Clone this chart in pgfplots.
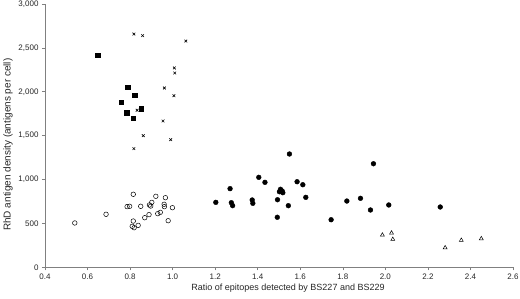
\documentclass[border=0pt]{standalone}
\usepackage{pgfplots}
\pgfplotsset{compat=1.18}
\usepackage{fontspec}
\setmainfont{Liberation Sans}
\definecolor{axgray}{RGB}{128,128,128}
\begin{document}
\begin{tikzpicture}
\begin{axis}[
  at={(0,0)}, anchor=south west,
  scale only axis, width=468pt, height=263.3pt,
  xmin=0.4, xmax=2.6, ymin=0, ymax=3000,
  axis lines*=left,
  axis line style={axgray, line width=0.8pt},
  every tick/.style={axgray, line width=0.6pt},
  tick align=outside, major tick length=3pt,
  xtick={0.4,0.6,...,2.61}, ytick={0,500,...,3000},
  xticklabel style={/pgf/number format/.cd, fixed, fixed zerofill, precision=1},
  yticklabel style={/pgf/number format/.cd, fixed, 1000 sep={,}},
  /pgf/number format/assume math mode=true,
  tick label style={font=\fontsize{8}{9}\selectfont, text=black!85},
  xlabel style={font=\fontsize{9}{10}\selectfont, text=black!85, yshift=2pt, xshift=9pt},
  ylabel style={font=\fontsize{10}{11}\selectfont, text=black!85, yshift=-1pt, xshift=-9pt},
  xlabel={Ratio of epitopes detected by BS227 and BS229},
  ylabel={RhD antigen density (antigens per cell)},
  clip=false,
]
% filled squares
\addplot[only marks, mark=square*, mark size=2.3pt, black] coordinates {
(0.648,2415) (0.790,2054) (0.822,1963) (0.759,1880) (0.853,1807) (0.784,1762) (0.815,1697)};
% crosses
\addplot[only marks, mark=x, mark size=1.9pt, black, mark options={line width=0.6pt}] coordinates {
(0.818,2658) (0.859,2639) (1.062,2578) (1.008,2271) (1.010,2214) (0.961,2043) (1.006,1955)
(0.833,1789) (0.955,1667) (0.862,1500) (0.991,1454) (0.818,1352)};
% open circles
\addplot[only marks, mark=o, mark size=2.3pt, black, mark options={line width=0.5pt}] coordinates {
(0.540,505) (0.687,604) (0.815,832) (0.786,691) (0.798,695) (0.850,695) (0.921,809) (0.966,793)
(0.902,740) (0.891,710) (0.897,698) (0.960,718) (0.961,691) (0.999,679) (0.869,565) (0.889,600)
(0.930,611) (0.942,626) (0.815,527) (0.979,531) (0.838,478) (0.810,467) (0.819,451)};
% filled circles
\addplot[only marks, mark=*, mark size=2.4pt, black] coordinates {
(1.203,740) (1.270,896) (1.276,736) (1.282,702) (1.374,767) (1.377,729) (1.405,1025)
(1.434,968) (1.549,1291) (1.944,1180) (1.585,975) (1.612,941) (1.507,889) (1.515,869)
(1.502,861) (1.518,850) (1.626,797) (1.493,770) (1.544,702) (1.492,570) (1.745,542)
(1.819,755) (1.883,786) (1.930,653) (2.016,710) (2.258,687)};
% open triangles
\addplot[only marks, mark=triangle, mark size=2.3pt, black, mark options={line width=0.5pt}] coordinates {
(1.986,368) (2.029,391) (2.035,319) (2.281,223) (2.357,308) (2.451,326)};
\end{axis}
\pgfresetboundingbox
\path (-45pt,-31.7pt) rectangle (475pt,267.3pt);
\end{tikzpicture}
\end{document}
